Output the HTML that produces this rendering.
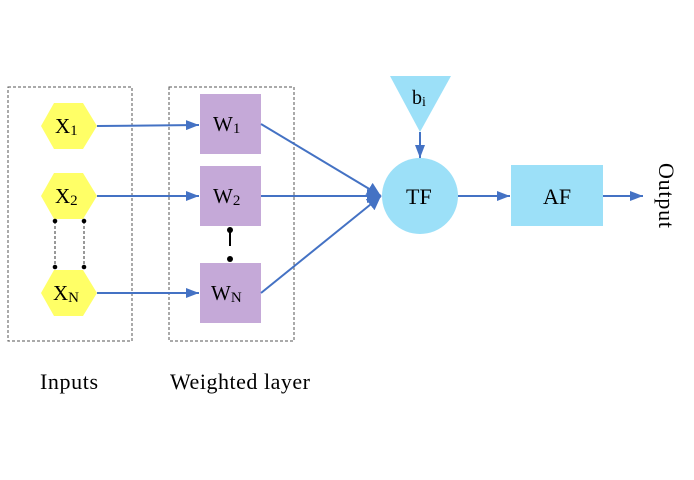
<!DOCTYPE html>
<html><head><meta charset="utf-8"><style>
html,body{margin:0;padding:0;background:#fff;}
svg{display:block;}
text{font-family:"Liberation Serif",serif;fill:#000;}
</style></head><body>
<svg width="694" height="480" viewBox="0 0 694 480" xmlns="http://www.w3.org/2000/svg">
<defs>
<marker id="a" markerWidth="13" markerHeight="10" refX="13" refY="5" orient="auto" markerUnits="userSpaceOnUse"><path d="M0,0 L13,5 L0,10 z" fill="#4472c4"/></marker>
<marker id="b" markerWidth="14" markerHeight="14" refX="14" refY="7" orient="auto" markerUnits="userSpaceOnUse"><path d="M0,0 L14,7 L0,14 z" fill="#4472c4"/></marker>
</defs>
<rect x="8" y="87" width="124" height="254" fill="none" stroke="#555" stroke-width="1" stroke-dasharray="3,2"/>
<rect x="169" y="87" width="125" height="254" fill="none" stroke="#555" stroke-width="1" stroke-dasharray="3,2"/>
<g fill="#ffff66">
<polygon points="41,126 54,103 83,103 97,126 83,149 54,149"/>
<polygon points="41,196 54,173 83,173 97,196 83,219 54,219"/>
<polygon points="41,293 54,270 83,270 97,293 83,316 54,316"/>
</g>
<g font-size="21">
<text x="55" y="133">X<tspan font-size="15" dy="2">1</tspan></text>
<text x="55" y="203">X<tspan font-size="15" dy="2">2</tspan></text>
<text x="53" y="300">X<tspan font-size="15" dy="2">N</tspan></text>
</g>
<g stroke="#333" stroke-width="1" stroke-dasharray="3,2">
<line x1="55" y1="221" x2="55" y2="267"/><line x1="84" y1="221" x2="84" y2="267"/>
</g>
<g fill="#000"><circle cx="55" cy="221" r="2.3"/><circle cx="84" cy="221" r="2.3"/><circle cx="55" cy="267" r="2.3"/><circle cx="84" cy="267" r="2.3"/>
<circle cx="230" cy="230" r="3"/><circle cx="230" cy="259" r="3"/></g>
<line x1="230" y1="230" x2="230" y2="246" stroke="#000" stroke-width="2"/>
<g fill="#c5a9d8">
<rect x="200" y="94" width="61" height="60"/>
<rect x="200" y="166" width="61" height="60"/>
<rect x="200" y="263" width="61" height="60"/>
</g>
<g font-size="21">
<text x="213" y="131">W<tspan font-size="15" dy="2">1</tspan></text>
<text x="213" y="203">W<tspan font-size="15" dy="2">2</tspan></text>
<text x="211" y="300">W<tspan font-size="15" dy="2">N</tspan></text>
</g>
<g stroke="#4472c4" stroke-width="2" fill="none">
<line x1="97" y1="126" x2="199" y2="125" marker-end="url(#a)"/>
<line x1="97" y1="196" x2="199" y2="196" marker-end="url(#a)"/>
<line x1="97" y1="293" x2="199" y2="293" marker-end="url(#a)"/>
<line x1="261" y1="124" x2="381" y2="196" marker-end="url(#b)"/>
<line x1="261" y1="196" x2="381" y2="196" marker-end="url(#b)"/>
<line x1="261" y1="293" x2="381" y2="196" marker-end="url(#b)"/>
<line x1="420" y1="132" x2="420" y2="158" marker-end="url(#a)"/>
<line x1="458" y1="196" x2="510" y2="196" marker-end="url(#a)"/>
<line x1="603" y1="196" x2="643" y2="196" marker-end="url(#a)"/>
</g>
<circle cx="420" cy="196" r="38" fill="#9ce0f8"/>
<polygon points="390,76 451,76 420,132" fill="#9ce0f8"/>
<rect x="511" y="165" width="92" height="61" fill="#9ce0f8"/>
<text x="406" y="204" font-size="22">TF</text>
<text x="412" y="104" font-size="20">b<tspan font-size="14" dy="2">i</tspan></text>
<text x="543" y="204" font-size="22">AF</text>
<text transform="translate(659,163) rotate(90)" font-size="22" textLength="65">Output</text>
<text x="40" y="389" font-size="22" textLength="58">Inputs</text>
<text x="170" y="389" font-size="22" textLength="140">Weighted layer</text>
</svg>
</body></html>
